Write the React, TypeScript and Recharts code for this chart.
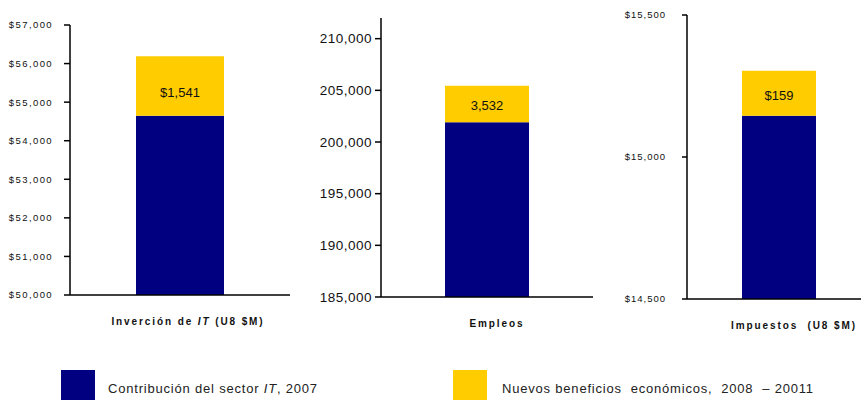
import { BarChart, Bar, XAxis, YAxis, LabelList } from 'recharts';

const seriesNames = ['Contribución del sector IT, 2007', 'Nuevos beneficios  económicos,  2008  – 20011'];
const seriesColors = ['#000080', '#FFCC00'];

// Inversion de IT (US $M)
const inversionBase = [54650];
const inversionNuevo = [1541];
const inversionTicks = [50000, 51000, 52000, 53000, 54000, 55000, 56000, 57000];

// Empleos
const empleosBase = [201900];
const empleosNuevo = [3532];
const empleosTicks = [185000, 190000, 195000, 200000, 205000, 210000];

// Impuestos (US $M)
const impuestosBase = [15145];
const impuestosNuevo = [159];
const impuestosTicks = [14500, 15000, 15500];

const fmt = (v: number) => v.toLocaleString('en-US');
const fmtUsd = (v: number) => '$' + v.toLocaleString('en-US');

const FONT = 'Liberation Sans, Arial, sans-serif';

const XTick = ({ x, y, payload, dx, italicPart }: any) => {
  const label: string = payload.value;
  let parts: any = label;
  if (italicPart && label.includes(italicPart)) {
    const [a, b] = label.split(italicPart);
    parts = [
      <tspan key="a">{a}</tspan>,
      <tspan key="i" fontStyle="italic">{italicPart}</tspan>,
      <tspan key="b">{b}</tspan>,
    ];
  }
  return (
    <text x={x + dx} y={y + 22} textAnchor="middle" fontSize={10} fontWeight="bold" letterSpacing={1.9} fill="#111" fontFamily={FONT} style={{ whiteSpace: 'pre' }}>
      {parts}
    </text>
  );
};

interface PanelProps {
  left: number;
  width: number;
  name: string;
  base: number[];
  nuevo: number[];
  ticks: number[];
  domain: [number, number];
  top: number;
  bottom: number;
  axisX: number;
  yWidth: number;
  tickFont: number;
  tickSpacing: number;
  tickMargin: number;
  tickSize: number;
  barSize: number;
  padLeft: number;
  labelDx: number;
  labelDy: number;
  labelFmt: (v: number) => string;
  tickFmt: (v: number) => string;
  italicPart?: string;
}

const Panel = (p: PanelProps) => {
  const data = p.base.map((b, i) => ({ name: p.name, base: b, nuevo: p.nuevo[i] }));
  const height = 340;
  return (
    <div style={{ position: 'absolute', left: p.left, top: 0 }}>
      <BarChart
        width={p.width}
        height={height}
        data={data}
        margin={{ top: p.top, right: 0, bottom: height - p.bottom - 30, left: p.axisX - p.left - p.yWidth }}
      >
        <YAxis
          width={p.yWidth}
          domain={p.domain}
          ticks={p.ticks}
          allowDataOverflow
          tickFormatter={p.tickFmt}
          stroke="#000"
          strokeWidth={1.5}
          tickSize={p.tickSize}
          tickMargin={p.tickMargin}
          tick={{ fill: '#111', fontSize: p.tickFont, fontFamily: FONT, letterSpacing: p.tickSpacing }}
        />
        <XAxis
          dataKey="name"
          height={30}
          stroke="#000"
          strokeWidth={1.5}
          tickLine={false}
          padding={{ left: p.padLeft, right: 0 }}
          tick={<XTick dx={p.labelDx} italicPart={p.italicPart} />}
        />
        <Bar dataKey="base" stackId="a" fill={seriesColors[0]} barSize={p.barSize} isAnimationActive={false} />
        <Bar dataKey="nuevo" stackId="a" fill={seriesColors[1]} barSize={p.barSize} isAnimationActive={false}>
          <LabelList dataKey="nuevo" position="center" dy={p.labelDy} formatter={(v: any) => p.labelFmt(Number(v))} fill="#111" fontSize={13} fontFamily={FONT} />
        </Bar>
      </BarChart>
    </div>
  );
};

export default function App() {
  return (
    <div style={{ position: 'absolute', left: 0, top: 0, width: 861, height: 400, background: '#fff', overflow: 'hidden', fontFamily: FONT }}>
      <Panel
        left={0} width={290} name="Inverción de IT (U8 $M)" italicPart="IT"
        base={inversionBase} nuevo={inversionNuevo} ticks={inversionTicks}
        domain={[50000, 57000]} top={25} bottom={295} axisX={70} yWidth={66}
        tickFont={9.5} tickSpacing={1.4} tickMargin={11} tickSize={6} barSize={88} padLeft={0} labelDx={8} labelDy={6}
        labelFmt={fmtUsd} tickFmt={fmtUsd}
      />
      <Panel
        left={290} width={303} name="Empleos"
        base={empleosBase} nuevo={empleosNuevo} ticks={empleosTicks}
        domain={[185000, 212000]} top={18} bottom={297} axisX={381} yWidth={80}
        tickFont={13.5} tickSpacing={0.5} tickMargin={3} tickSize={6} barSize={84} padLeft={0} labelDx={10} labelDy={1}
        labelFmt={fmt} tickFmt={fmt}
      />
      <Panel
        left={593} width={268} name="Impuestos  (U8 $M)"
        base={impuestosBase} nuevo={impuestosNuevo} ticks={impuestosTicks}
        domain={[14500, 15500]} top={15} bottom={299} axisX={687} yWidth={80}
        tickFont={9.5} tickSpacing={1} tickMargin={16} tickSize={5} barSize={74} padLeft={10} labelDx={15} labelDy={2}
        labelFmt={fmtUsd} tickFmt={fmtUsd}
      />
      {seriesNames.map((n, i) => (
        <div key={n} style={{ position: 'absolute', left: i === 0 ? 61 : 453, top: 370, display: 'flex', alignItems: 'flex-start' }}>
          <div style={{ width: 34, height: 34, background: seriesColors[i] }} />
          <div style={{ marginLeft: i === 0 ? 13 : 15, marginTop: 11, fontSize: 13, letterSpacing: 0.8, color: '#222', whiteSpace: 'pre' }}>
            {i === 0 ? <>Contribución del sector <i>IT</i>, 2007</> : n}
          </div>
        </div>
      ))}
    </div>
  );
}
